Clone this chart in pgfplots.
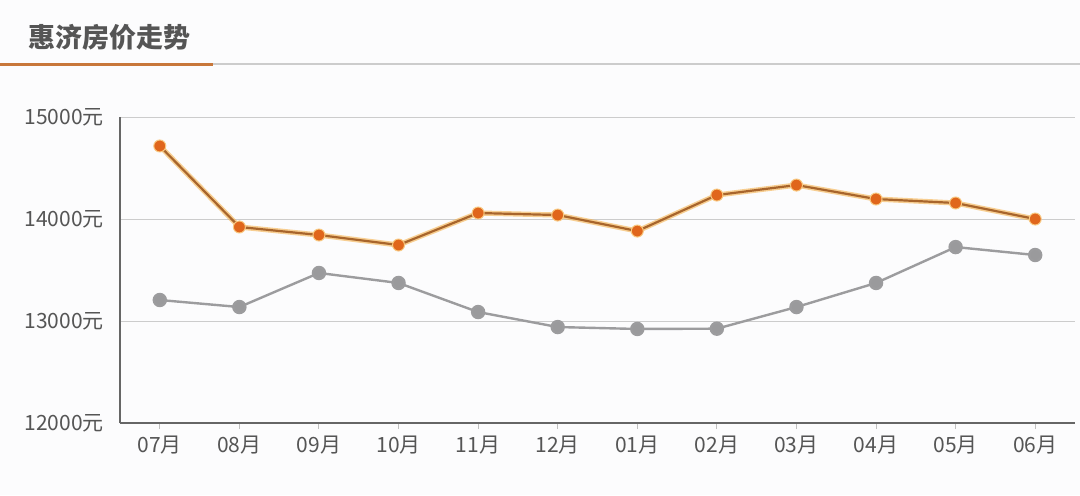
\documentclass[border=0pt]{standalone}
\usepackage{pgfplots}
\pgfplotsset{compat=1.18}
\usepackage{fontspec}
\newfontfamily\cjk{Noto Sans CJK SC}
\definecolor{orgmark}{HTML}{E0661C}
\definecolor{orgline}{HTML}{A8652C}
\definecolor{orgglow}{HTML}{F5B04A}
\definecolor{graymark}{HTML}{9A9A9C}
\definecolor{grayline}{HTML}{9C9C9E}
\definecolor{txt}{HTML}{555555}
\definecolor{bg}{HTML}{FCFCFD}
\definecolor{rule}{HTML}{C8773A}
\begin{document}
\begin{tikzpicture}
\fill[bg] (0,0) rectangle (540pt,-247.5pt);
\useasboundingbox (0,0) rectangle (540pt,-247.5pt);
\node[anchor=west, inner sep=0pt, font=\cjk\bfseries\fontsize{13.5}{15}\selectfont, text=txt] at (14pt,-18.5pt) {惠济房价走势};
\draw[gray!40, line width=0.6pt] (0,-32pt) -- (540pt,-32pt);
\draw[rule, line width=1.5pt] (0,-32pt) -- (106.5pt,-32pt);
\begin{axis}[
  at={(60pt,-211.5pt)}, anchor=south west,
  scale only axis, width=477.5pt, height=153pt,
  xmin=-0.5, xmax=11.5, ymin=12000, ymax=15000,
  scaled y ticks=false,
  axis x line*=bottom, axis y line*=left,
  axis line style={draw=black!60, line width=1pt, -},
  xtick={0,...,11},
  xticklabels={07月,08月,09月,10月,11月,12月,01月,02月,03月,04月,05月,06月},
  ytick={12000,13000,14000,15000},
  yticklabels={12000元,13000元,14000元,15000元},
  ymajorgrids, grid style={draw=black!20, line width=0.5pt},
  tick label style={font=\cjk\fontsize{10.5}{12}\selectfont, text=txt},
  ytick style={draw=none},
  xtick style={draw=black!25, line width=0.5pt},
  tick align=outside, major tick length=3pt,
  yticklabel style={xshift=-1.5pt},
  clip=false,
]
\addplot[grayline, line width=1.2pt, mark=*, mark size=3pt, mark options={draw=none, fill=graymark}] coordinates {
(0,13206) (1,13137) (2,13471) (3,13373) (4,13088) (5,12941)
(6,12922) (7,12925) (8,13137) (9,13373) (10,13725) (11,13647)};
\addplot[orgglow, opacity=0.6, line width=2.6pt] coordinates {
(0,14716) (1,13922) (2,13843) (3,13745) (4,14059) (5,14039)
(6,13882) (7,14235) (8,14333) (9,14196) (10,14157) (11,14000)};
\addplot[orgline, line width=1.1pt, mark=*, mark size=3pt, mark options={draw=orgglow!70, line width=0.5pt, fill=orgmark}] coordinates {
(0,14716) (1,13922) (2,13843) (3,13745) (4,14059) (5,14039)
(6,13882) (7,14235) (8,14333) (9,14196) (10,14157) (11,14000)};
\end{axis}
\end{tikzpicture}
\end{document}
